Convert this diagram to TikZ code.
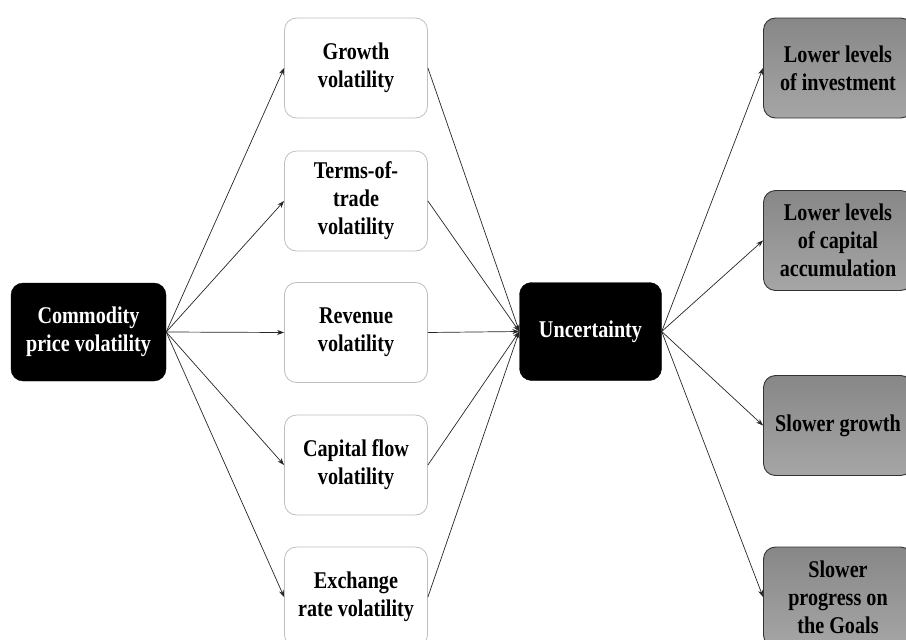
\documentclass[tikz,border=0pt]{standalone}
\usepackage{fontspec}
\setmainfont{Liberation Serif}
\newfontfamily\boxfont[FakeStretch=0.84]{Liberation Serif}
\usetikzlibrary{arrows.meta}
\begin{document}
\begin{tikzpicture}[x=1pt,y=-1pt,
  boxbase/.style={rounded corners=12pt, align=center, inner sep=2pt,
    font=\boxfont\fontsize{24}{28}\selectfont\bfseries},
  darkbox/.style={boxbase, fill=black, draw=black, text=white,
    minimum width=155pt, minimum height=98pt},
  midbox/.style={boxbase, fill=white, draw=black!25, line width=0.8pt, text=black,
    minimum width=143pt, minimum height=100pt},
  outbox/.style={boxbase, draw=black!80, line width=0.9pt, text=black,
    top color=black!47, bottom color=black!35,
    minimum width=149pt, minimum height=100pt},
  link/.style={-{Stealth[length=7pt,width=5pt]}, line width=0.7pt, black!85}]
\useasboundingbox (0,0) rectangle (906,640);

% source
\node[darkbox] (src) at (88.5,332) {Commodity\\price volatility};

% channels of volatility
\node[midbox] (g)  at (356,68)    {Growth\\volatility};
\node[midbox] (tt) at (356,201)   {Terms-of-\\trade\\volatility};
\node[midbox] (rv) at (356,332.5) {Revenue\\volatility};
\node[midbox] (cf) at (356,465)   {Capital flow\\volatility};
\node[midbox] (ex) at (356,597)   {Exchange\\rate volatility};

% hub
\node[darkbox, minimum width=142pt] (unc) at (590.5,331.5) {Uncertainty};

% outcomes
\node[outbox] (inv) at (838,68)    {Lower levels\\of investment};
\node[outbox] (cap) at (838,240.5) {Lower levels\\of capital\\accumulation};
\node[outbox] (sg)  at (838,425.5) {Slower growth};
\node[outbox] (sp)  at (838,597)   {Slower\\progress on\\the Goals};

\foreach \m in {g,tt,rv,cf,ex}{
  \draw[link] (src.east) -- (\m.west);
  \draw[link] (\m.east) -- (unc.west);
}
\foreach \o in {inv,cap,sg,sp}{
  \draw[link] (unc.east) -- (\o.west);
}
\end{tikzpicture}
\end{document}
